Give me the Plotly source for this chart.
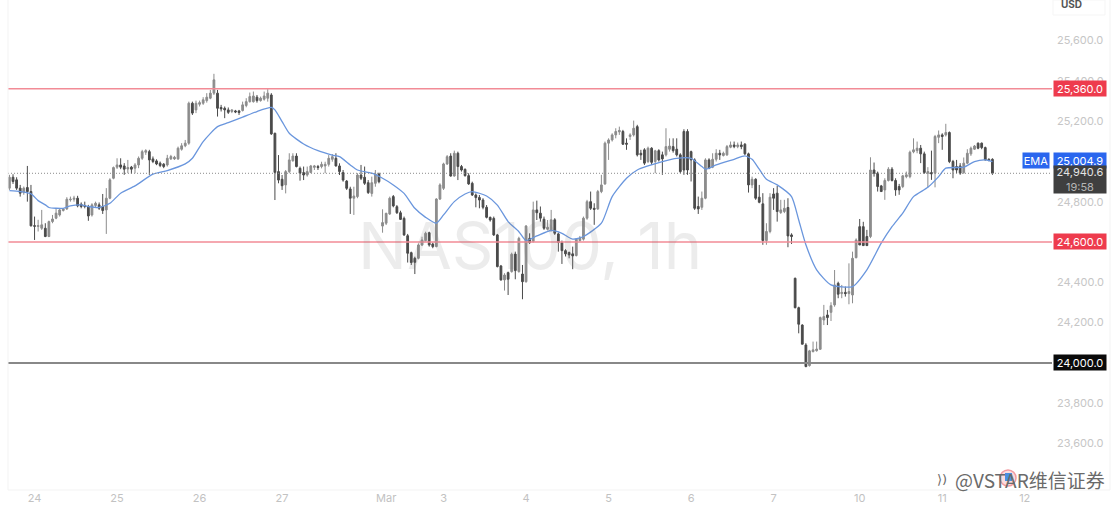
import plotly.graph_objects as go

# hourly candles, one list per OHLC column
opens = [
    24867,24921,24908,24867,24845,24870,24850,24681,24677,24668,
    24668,24627,24701,24718,24734,24756,24764,24809,24812,24817,
    24787,24781,24776,24734,24781,24784,24776,24759,24817,24916,
    24971,24982,24977,24962,24971,24966,24982,25015,25045,25048,
    25012,25002,24991,24986,24982,25012,25012,25012,25060,25077,
    25090,25288,25255,25283,25288,25301,25313,25338,25338,25267,
    25263,25255,25247,25250,25250,25252,25277,25296,25296,25318,
    25301,25308,25313,25329,25139,24949,24911,24883,24949,25003,
    25026,24965,24944,24932,24945,24970,24974,24974,24977,24985,
    25010,25015,24977,24944,24902,24863,24817,24825,24932,24921,
    24894,24841,24891,24937,24679,24693,24739,24825,24775,24745,
    24717,24631,24547,24519,24519,24585,24607,24646,24590,24577,
    24813,24866,24987,25026,24927,25040,24974,24960,24929,24891,
    24833,24821,24808,24772,24722,24717,24635,24481,24412,24448,
    24453,24540,24453,24441,24403,24618,24602,24759,24743,24713,
    24663,24660,24710,24640,24597,24557,24548,24541,24533,24607,
    24614,24718,24800,24767,24764,24850,24888,25090,25106,25131,
    25146,25148,25090,25123,25131,25172,25040,25057,24999,25065,
    24999,25053,25032,25032,25060,25073,25060,25032,25148,25148,
    25048,25007,24776,24772,24817,25007,24971,25010,25040,25029,
    25032,25070,25081,25073,25081,25085,25037,24883,24911,24822,
    24789,24607,24652,24838,24842,24746,24751,24771,24635,24420,
    24274,24188,24089,23987,24056,24061,24068,24213,24238,24251,
    24288,24395,24344,24350,24344,24337,24522,24676,24676,24627,
    24627,24957,24941,24878,24858,24905,24961,24905,24875,24875,
    24924,24924,25047,25053,25065,25037,24941,24944,24941,25119,
    25131,25131,25143,24999,24974,24977,24944,24991,25037,25060,
    25090,25090,25068,25010,25010,
]
highs = [
    24933,24936,24921,24883,24875,24977,24883,24726,24710,24759,
    24693,24706,24734,24767,24767,24767,24822,24825,24829,24829,
    24796,24800,24784,24792,24800,24796,24838,24867,24916,24974,
    25015,25015,24991,25007,24977,24991,25024,25057,25060,25057,
    25024,25010,24999,24991,25032,25032,25027,25073,25090,25106,
    25296,25296,25301,25301,25318,25338,25354,25434,25354,25280,
    25272,25267,25258,25255,25255,25296,25313,25341,25346,25329,
    25321,25346,25358,25338,25142,25031,24932,24957,25040,25040,
    25040,24974,24974,24974,24982,24982,24982,24998,24998,25031,
    25036,25040,24990,24957,24907,24874,24874,24941,24982,24974,
    24907,24924,24957,24944,24762,24745,24825,24833,24783,24755,
    24726,24640,24552,24527,24593,24626,24651,24651,24597,24817,
    24891,24993,25031,25040,25053,25048,24982,24965,24941,24899,
    24841,24833,24817,24783,24726,24726,24640,24486,24445,24453,
    24547,24552,24626,24486,24684,24643,24800,24805,24776,24726,
    24709,24759,24718,24647,24607,24564,24552,24577,24619,24630,
    24726,24809,24850,24792,24858,24933,25098,25114,25139,25164,
    25172,25156,25114,25139,25202,25181,25057,25065,25073,25070,
    25057,25060,25048,25164,25114,25114,25114,25040,25159,25159,
    25053,25015,24825,24850,25015,25015,25040,25060,25057,25048,
    25081,25098,25098,25093,25098,25090,25043,24924,24916,24883,
    24842,24693,24842,24867,24878,24809,24809,24817,24643,24423,
    24279,24192,24098,24065,24106,24106,24230,24288,24263,24301,
    24461,24403,24387,24379,24494,24552,24618,24714,24700,24660,
    25020,24994,24949,24883,24916,24971,24971,24916,24888,24933,
    24949,25053,25114,25098,25081,25048,24971,25053,25131,25153,
    25139,25186,25148,25007,25007,24991,25019,25060,25073,25081,
    25093,25093,25073,25015,25015,
]
lows = [
    24858,24888,24858,24825,24834,24800,24677,24610,24652,24660,
    24624,24624,24693,24713,24726,24751,24759,24800,24800,24772,
    24767,24767,24705,24726,24772,24759,24739,24640,24812,24911,
    24962,24961,24933,24941,24938,24941,24966,25007,25032,24933,
    24991,24981,24971,24966,24974,25007,25007,25007,25053,25070,
    25082,25230,25239,25272,25280,25291,25308,25329,25222,25247,
    25214,25235,25239,25239,25230,25247,25268,25291,25291,25291,
    25296,25301,25296,25131,24808,24891,24858,24841,24941,24998,
    24970,24904,24907,24924,24941,24957,24957,24965,24941,24974,
    24998,24974,24932,24899,24858,24739,24734,24817,24907,24883,
    24838,24825,24874,24891,24646,24684,24734,24772,24739,24709,
    24630,24498,24486,24441,24514,24580,24602,24577,24569,24574,
    24808,24858,24982,24924,24924,24907,24949,24924,24883,24828,
    24772,24767,24762,24717,24701,24630,24474,24408,24359,24337,
    24448,24415,24448,24316,24398,24590,24597,24709,24701,24660,
    24657,24652,24635,24552,24491,24528,24519,24465,24528,24602,
    24607,24710,24759,24685,24759,24842,24883,25007,25098,25114,
    25131,25081,25057,25106,25123,25024,25007,24982,24991,24982,
    24941,24999,24933,25024,25048,25043,25024,24941,24933,24933,
    24900,24759,24739,24759,24812,24961,24966,24999,25007,25024,
    25027,25065,25065,25065,25060,25032,24845,24867,24809,24792,
    24586,24586,24643,24759,24701,24739,24743,24574,24590,24271,
    24147,24093,23979,23982,24053,24056,24065,24188,24188,24208,
    24279,24321,24321,24329,24291,24296,24519,24586,24580,24580,
    24619,24924,24850,24850,24809,24900,24900,24829,24834,24867,
    24916,24916,25040,25040,24991,24938,24871,24908,24871,25090,
    25057,25123,24991,24916,24941,24933,24938,24986,25027,25057,
    25060,25060,25004,25000,24933,
]
closes = [
    24921,24900,24867,24842,24867,24850,24680,24678,24681,24685,
    24627,24701,24714,24743,24759,24764,24812,24812,24817,24779,
    24776,24776,24729,24784,24792,24767,24756,24817,24908,24969,
    24982,24971,24961,24969,24961,24982,25015,25048,25053,25007,
    24999,24987,24979,24974,25015,25024,25020,25065,25077,25090,
    25288,25239,25288,25291,25305,25318,25338,25404,25263,25260,
    25255,25243,25255,25245,25242,25280,25296,25321,25324,25301,
    25313,25324,25338,25136,24945,24907,24879,24949,25007,25026,
    24974,24941,24932,24949,24977,24977,24969,24985,24985,25015,
    25023,24977,24949,24907,24866,24817,24828,24932,24916,24891,
    24845,24894,24937,24899,24696,24742,24817,24779,24745,24712,
    24635,24544,24498,24499,24585,24610,24643,24585,24577,24813,
    24883,24987,25023,24927,25040,24974,24957,24929,24888,24833,
    24820,24808,24772,24722,24709,24635,24478,24412,24436,24415,
    24539,24458,24618,24403,24679,24597,24759,24745,24718,24668,
    24673,24710,24643,24597,24557,24541,24536,24531,24614,24619,
    24718,24800,24767,24762,24850,24883,25090,25106,25131,25148,
    25153,25085,25085,25131,25164,25032,25032,24991,25065,24995,
    25052,25007,25012,25073,25076,25053,25032,24949,24957,24957,
    25007,24767,24764,24817,25007,24966,25010,25040,25032,25040,
    25073,25081,25073,25081,25073,25037,24883,24911,24817,24797,
    24607,24652,24822,24817,24751,24759,24767,24630,24627,24274,
    24192,24093,23982,24060,24065,24069,24225,24230,24225,24284,
    24387,24341,24350,24344,24354,24519,24610,24585,24582,24582,
    24957,24941,24875,24850,24905,24961,24905,24858,24858,24928,
    24933,25045,25057,25065,25037,24944,24949,24938,25123,25131,
    25123,25143,24999,24957,24957,24941,24991,25040,25065,25076,
    25065,25068,25007,25004,24941,
]

# EMA vertices: bar number and value
ema_bars = [0,3,6,8,10,11,15,17,20,22,25,28,31,35,40,44,49,51,54,58,61,65,69,73,74,76,
            78,82,86,90,92,95,97,101,104,107,110,113,116,119,121,124,127,129,133,136,139,142,144,147,
            151,154,157,160,165,168,172,175,178,182,186,190,193,194,197,202,205,207,209,211,214,218,
            220,222,225,229,235,239,243,246,249,252,256,259,261,266,269,272,274]
ema_vals = [24855,24850,24839,24805,24784,24771,24767,24779,24784,24776,24771,24792,24842,24878,24936,24954,24987,25015,25098,25172,25192,25219,25247,25267,25255,25197,
            25139,25086,25053,25031,25023,24982,24957,24941,24916,24883,24841,24767,24722,24693,24734,24800,24838,24850,24828,24783,24701,24651,24607,24630,
            24657,24643,24614,24627,24693,24825,24916,24957,24977,24999,25015,25015,24974,24961,24982,25010,25027,25010,24961,24911,24883,24825,
            24709,24586,24462,24387,24379,24462,24594,24676,24743,24825,24871,24924,24966,24971,24999,25007,24999]

date_ticks = [7, 30, 53, 76, 105, 121, 144, 167, 190, 213, 237, 260, 283]
date_labels = ["24", "25", "26", "27", "Mar", "3", "4", "5", "6", "7", "10", "11", "12"]
price_ticks = [23600, 23800, 24000, 24200, 24400, 24600, 24800, 25000, 25200, 25400, 25600]

resistance = 25360
support = 24600
floor_level = 24000
last_price = 24940.6
ema_last = 25004.9

# plot area in page pixels
PL, PR, PB = 8, 1052, 490


def px_x(px):
    return (px - PL) / (PR - PL)


def px_y(py):
    return (PB - py) / PB


bars = list(range(len(closes)))

fig = go.Figure()
fig.add_trace(go.Candlestick(
    x=bars, open=opens, high=highs, low=lows, close=closes,
    increasing=dict(line=dict(color="#8c8c8c", width=1), fillcolor="#8c8c8c"),
    decreasing=dict(line=dict(color="#4a4a4a", width=1), fillcolor="#4a4a4a"),
    whiskerwidth=0, showlegend=False, hoverinfo="skip",
))
fig.add_trace(go.Scatter(
    x=ema_bars, y=ema_vals, mode="lines",
    line=dict(color="#6a96dd", width=1.3, shape="spline", smoothing=0.6),
    showlegend=False, hoverinfo="skip",
))

# horizontal levels
for level, col, w in [(resistance, "#f28b96", 1.6), (support, "#f28b96", 1.6), (floor_level, "#888888", 2)]:
    fig.add_shape(type="line", xref="paper", x0=0, x1=1, yref="y", y0=level, y1=level,
                  line=dict(color=col, width=w))
fig.add_shape(type="line", xref="paper", x0=0, x1=1, yref="y", y0=last_price, y1=last_price,
              line=dict(color="#8a8a8a", width=1, dash="1px,2px"))

# faint frame and USD box
frame = "#f3f3f3"
fig.add_shape(type="line", xref="paper", yref="paper", x0=0, x1=0, y0=0, y1=1, line=dict(color=frame, width=1))
fig.add_shape(type="line", xref="paper", yref="paper", x0=0, x1=px_x(1110), y0=0, y1=0, line=dict(color=frame, width=1))
fig.add_shape(type="line", xref="paper", yref="paper", x0=px_x(1110), x1=px_x(1110), y0=0, y1=1, line=dict(color=frame, width=1))
fig.add_shape(type="rect", xref="paper", yref="paper", x0=px_x(1053), x1=px_x(1105), y0=px_y(15), y1=1,
              line=dict(color="#f5f5f5", width=1), fillcolor="white")

# watermark logo marks, bottom right
fig.add_shape(type="circle", xref="paper", yref="paper", x0=px_x(1000), x1=px_x(1016), y0=px_y(486), y1=px_y(470),
              line=dict(color="#f29aa0", width=1.5), fillcolor="rgba(242,154,160,0.35)")
fig.add_shape(type="rect", xref="paper", yref="paper", x0=px_x(1005), x1=px_x(1012), y0=px_y(481), y1=px_y(473),
              line=dict(width=0), fillcolor="#4a90e2")


def tag(text, y, bg, width=52, height=15, fg="#ffffff", right=False):
    fig.add_annotation(
        xref="paper", x=1, xanchor="right" if right else "left", xshift=-2 if right else 1,
        yref="y", y=y, yanchor="middle", text=text, showarrow=False, width=width, height=height,
        bgcolor=bg, font=dict(family="Inter", size=11, color=fg), align="center", borderpad=0,
    )


tag(f"{resistance:,.1f}", resistance, "#ee3b4d")
tag(f"{support:,.1f}", support, "#ee3b4d")
tag(f"{floor_level:,.1f}", floor_level, "#0a0a0a")
tag(f"{ema_last:,.1f}", ema_last, "#2a66ee")
tag("EMA", ema_last, "#2a66ee", width=26, right=True)
tag(f"{last_price:,.1f}<br><span style='color:#b5b5b5'>19:58</span>", 24910, "#3f3f3f", height=27, fg="#e4e4e4")

fig.add_annotation(xref="paper", yref="paper", x=px_x(1071), y=px_y(4), xanchor="center", yanchor="middle",
                   text="<b>USD</b>", showarrow=False, font=dict(family="Inter", size=10, color="#555555"))
fig.add_annotation(xref="paper", yref="paper", x=px_x(530), y=px_y(245), xanchor="center", yanchor="middle",
                   text="NAS100, 1h", showarrow=False,
                   font=dict(family="Inter", size=65, color="rgba(120,120,120,0.14)"))
fig.add_annotation(xref="paper", yref="paper", x=px_x(1107), xanchor="right", y=px_y(479), yanchor="middle",
                   text="@VSTAR维信证券", showarrow=False,
                   font=dict(family="Noto Sans CJK SC", size=19, color="#6a6a6a"))
fig.add_annotation(xref="paper", yref="paper", x=px_x(942), xanchor="center", y=px_y(479), yanchor="middle",
                   text="⟩)", showarrow=False, font=dict(family="DejaVu Sans", size=13, color="#6a6a6a"))

fig.update_layout(
    width=1119, height=514,
    margin=dict(l=PL, r=1119 - PR, t=0, b=514 - PB),
    plot_bgcolor="white", paper_bgcolor="white",
    xaxis=dict(
        range=[-0.4, 290.6], rangeslider=dict(visible=False), showgrid=False, zeroline=False,
        tickmode="array", tickvals=date_ticks, ticktext=date_labels, ticks="", showline=False,
        tickfont=dict(family="Inter", size=11, color="#c2c2c2"),
    ),
    yaxis=dict(
        range=[23370, 25800], side="right", showgrid=False, zeroline=False,
        tickmode="array", tickvals=price_ticks, tickformat=",.1f", ticks="", showline=False,
        ticklabelstandoff=4,
        tickfont=dict(family="Inter", size=11, color="#c6c6c6"),
    ),
)

# page default margin would push the chart 8px off
fig.write_html("out.html", config=dict(displayModeBar=False), post_script="document.body.style.margin='0';")
